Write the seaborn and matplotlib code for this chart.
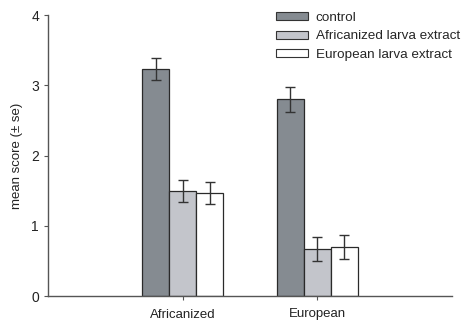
import matplotlib
matplotlib.use("Agg")
import matplotlib.pyplot as plt
import seaborn as sns
import pandas as pd

# Colony origin on the x axis, treatment as hue
colonies = ["Africanized", "European"]
treatments = ["control", "Africanized larva extract", "European larva extract"]
means = {
    "control": [3.23, 2.80],
    "Africanized larva extract": [1.50, 0.67],
    "European larva extract": [1.47, 0.70],
}
ses = {
    "control": [0.155, 0.175],
    "Africanized larva extract": [0.155, 0.175],
    "European larva extract": [0.16, 0.17],
}
colors = ["#858b91", "#c3c5cb", "#ffffff"]

rows = []
for t in treatments:
    for c, m in zip(colonies, means[t]):
        rows.append({"colony": c, "treatment": t, "mean": m})
df = pd.DataFrame(rows)

sns.set_style("ticks")
plt.rcParams["font.family"] = ["Liberation Sans", "DejaVu Sans"]
plt.rcParams["font.size"] = 9.5

fig = plt.figure(figsize=(4.63, 3.2), dpi=100)
ax = fig.add_axes([0.1037, 0.075, 0.8723, 0.878])

sns.barplot(data=df, x="colony", y="mean", hue="treatment",
            hue_order=treatments, order=colonies, palette=colors,
            width=0.6, errorbar=None, edgecolor="#2a2a2a", linewidth=0.9,
            saturation=1, ax=ax)

# Standard-error whiskers on top of each bar
for cont, t in zip(ax.containers, treatments):
    xs = [b.get_x() + b.get_width() / 2 for b in cont]
    hs = [b.get_height() for b in cont]
    ax.errorbar(xs, hs, yerr=ses[t], fmt="none", ecolor="#333333",
                elinewidth=1.0, capsize=3.5, capthick=1.0, zorder=5)

ax.set_xlim(-1, 2)
ax.set_ylim(0, 4)
ax.set_yticks([0, 1, 2, 3, 4])
ax.set_xlabel("")
ax.set_ylabel("mean score (± se)", fontsize=9.5, color="#222222", labelpad=6)
ax.tick_params(axis="y", labelsize=10, colors="#555555", labelcolor="#222222",
               length=3, width=0.8)
ax.tick_params(axis="x", labelsize=9.5, colors="#555555", labelcolor="#222222",
               length=3, width=0.8, pad=6)
for side in ["top", "right"]:
    ax.spines[side].set_visible(False)
for side in ["left", "bottom"]:
    ax.spines[side].set_color("#555555")
    ax.spines[side].set_linewidth(1.0)

leg = ax.legend(loc="upper right", bbox_to_anchor=(1.05, 1.055), frameon=False,
                fontsize=9.7, handlelength=2.35, handleheight=0.55,
                handletextpad=0.6, labelspacing=0.5)
for h in leg.legend_handles:
    h.set_edgecolor("#333333")
    h.set_linewidth(0.8)

fig.savefig("out.png", dpi=100)
